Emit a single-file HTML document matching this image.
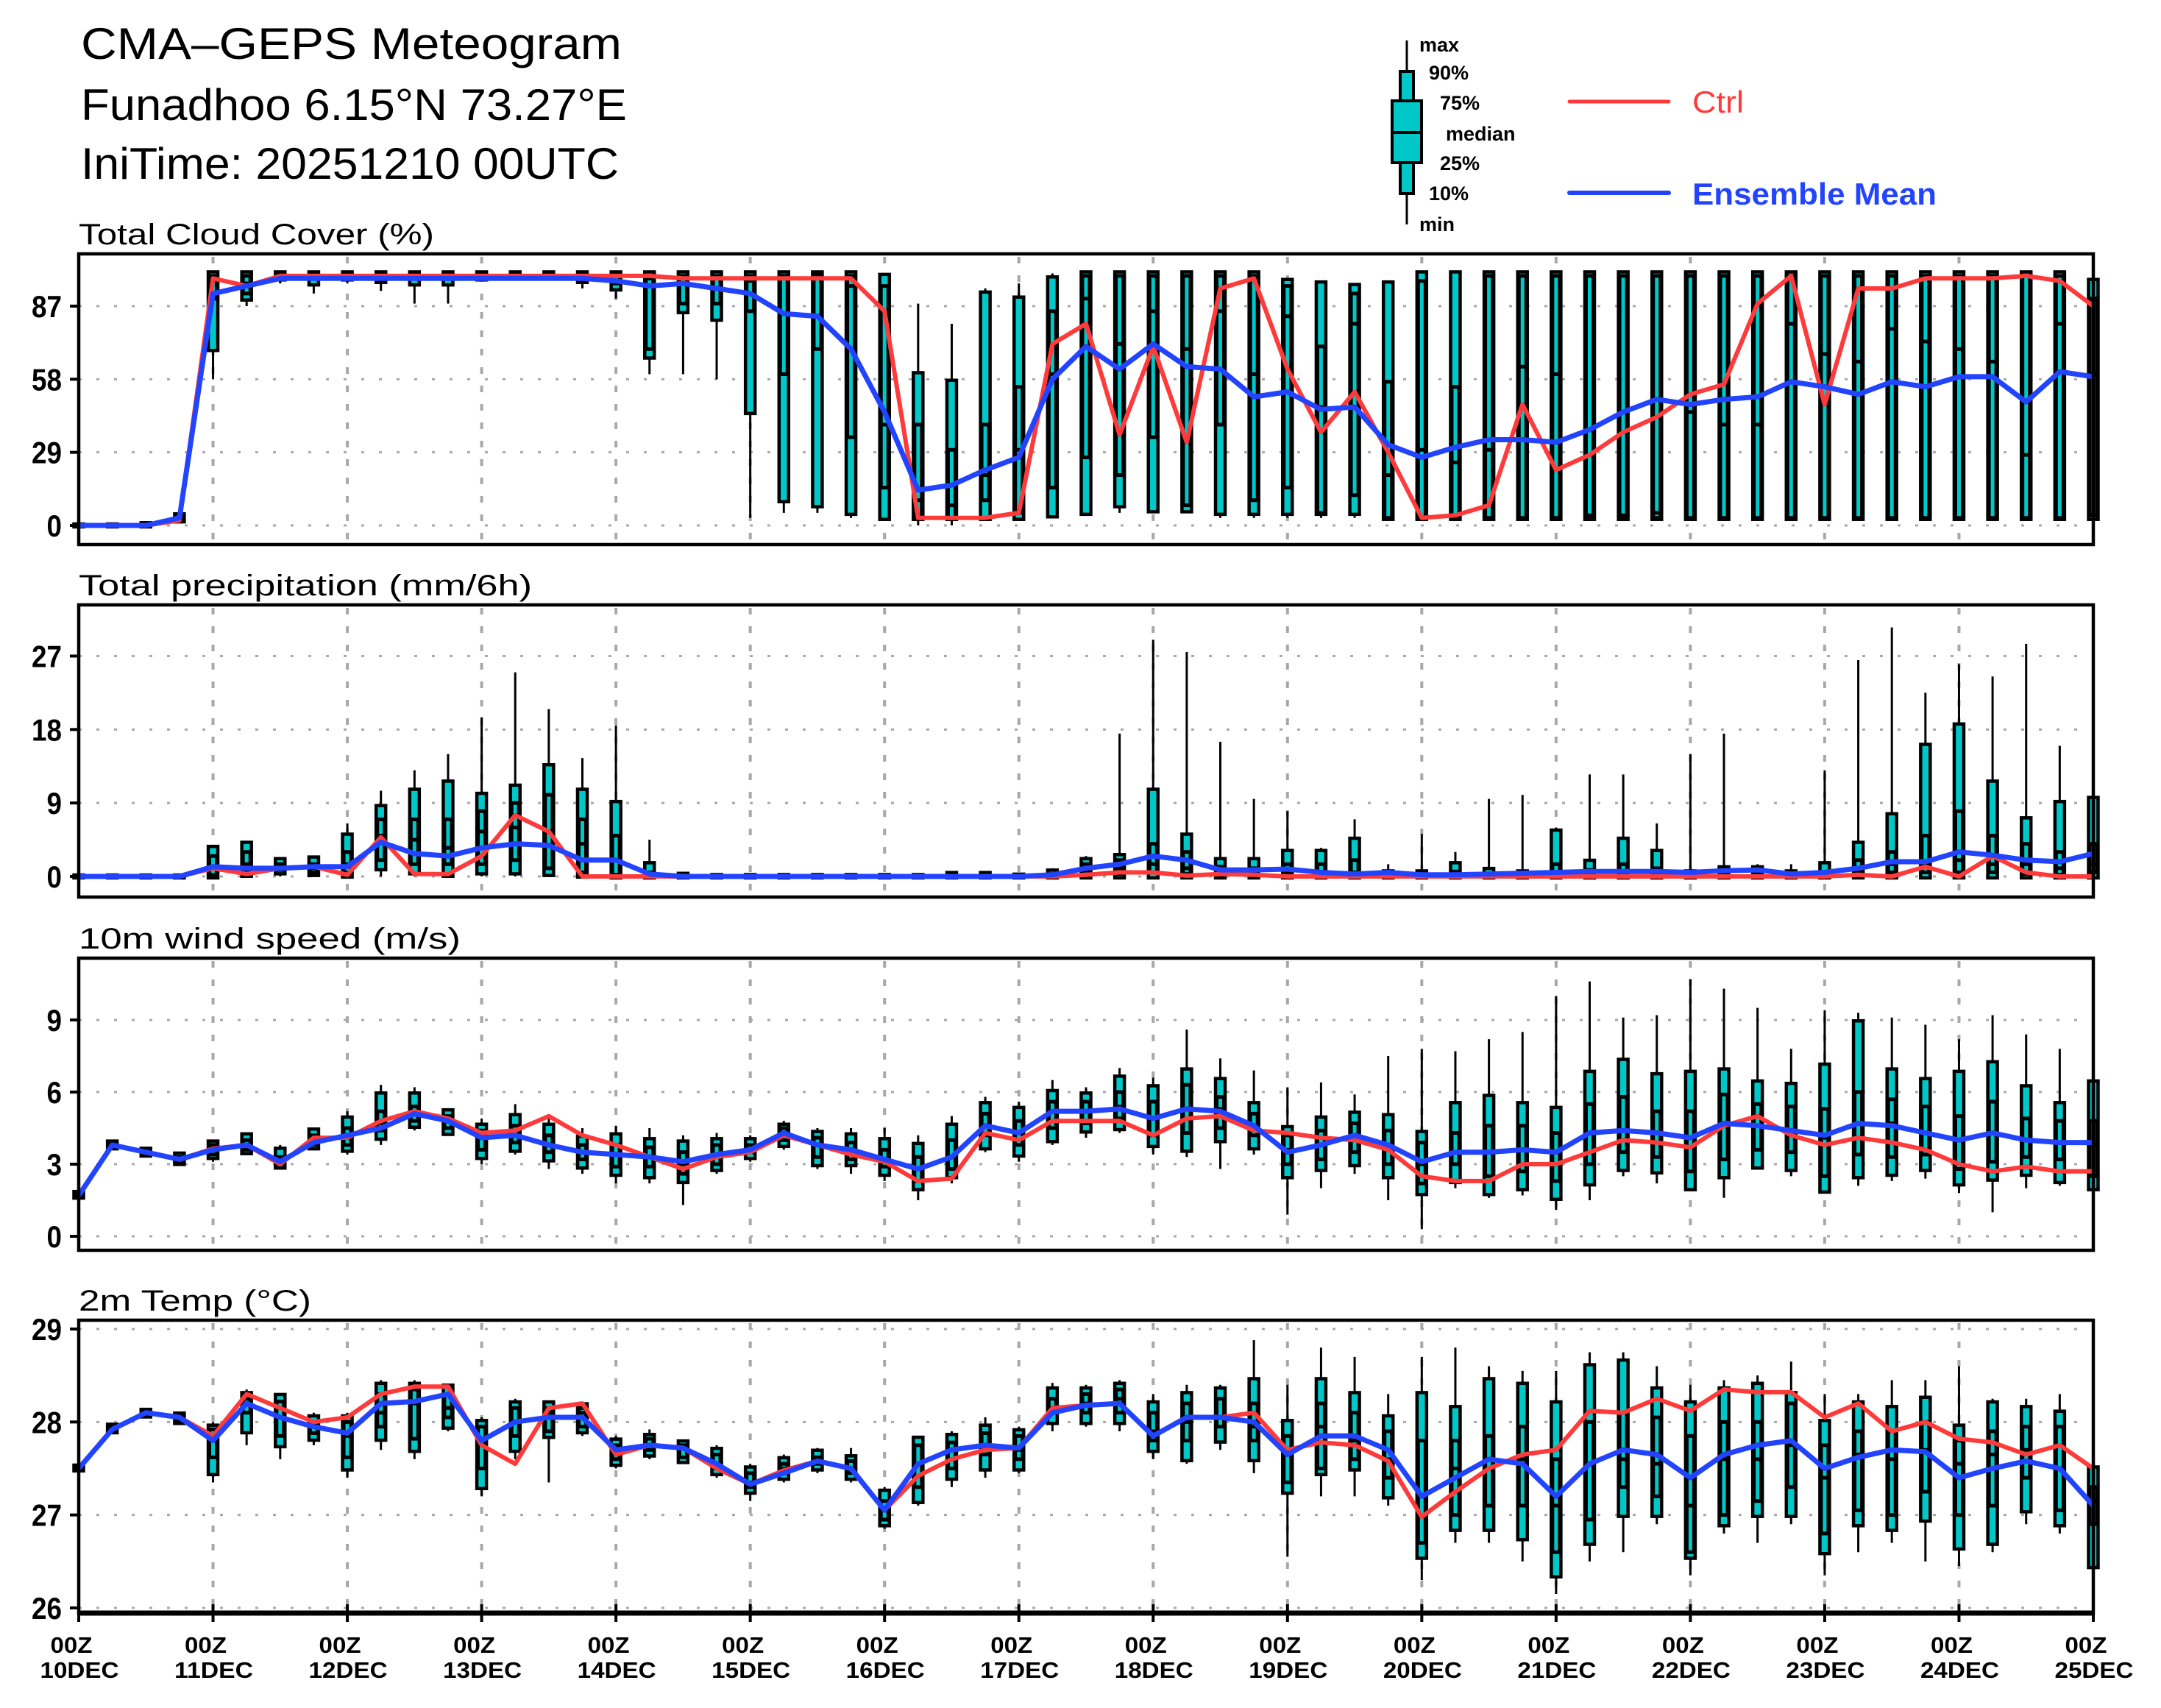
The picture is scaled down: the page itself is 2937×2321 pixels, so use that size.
<!DOCTYPE html>
<html><head><meta charset="utf-8"><style>
html,body{margin:0;padding:0;background:#fff;}
svg{display:block;}
text{font-family:"Liberation Sans",sans-serif;}
</style></head><body>
<svg id="chart" xmlns="http://www.w3.org/2000/svg" width="2937" height="2321" viewBox="0 0 2937 2321">
<rect x="0" y="0" width="2937" height="2321" fill="#fff"/>
<text x="110" y="80" font-size="60" textLength="735" lengthAdjust="spacingAndGlyphs">CMA–GEPS Meteogram</text>
<text x="110" y="163" font-size="60" textLength="742" lengthAdjust="spacingAndGlyphs">Funadhoo 6.15°N 73.27°E</text>
<text x="110" y="243" font-size="60" textLength="731" lengthAdjust="spacingAndGlyphs">IniTime: 20251210 00UTC</text>
<g id="legend"></g>
<g id="plots"></g>
</svg>
<script>
// ---- shared time axis ----
const steps = Array.from({length:61},(_,i)=>i); // 6-hourly steps
const dayLabels = ["10DEC","11DEC","12DEC","13DEC","14DEC","15DEC","16DEC","17DEC","18DEC","19DEC","20DEC","21DEC","22DEC","23DEC","24DEC","25DEC"];

// ---- Panel 1: Total cloud cover ----
const cloudTicks = [0,29,58,87];
const cloudCtrl = [0,0,0,2,98,95,99,99,99,99,99,99,99,99,99,99,99,99,98,98,98,98,98,98,85,3,3,3,5,72,80,36,71,33,94,98,62,37,53,29,3,4,8,48,22,28,37,43,52,56,88,99,48,94,94,98,98,98,99,97,87];
const cloudMean = [0,0,0,3,92,95,98,98,98,98,98,98,98,98,98,98,97,95,96,94,92,84,83,70,45,14,16,22,27,58,71,62,72,63,62,51,53,46,47,32,27,31,34,34,33,38,45,50,48,50,51,57,55,52,57,55,59,59,49,61,59];
const cloudBox = [
[0,0,0,0,0,0,0],[0,0,0,0,0,0,0],[0,0,0,0,0,0.5,1],[1,2,2,3,3,4,4],
[58,70,90,97,99,100,100],[87,90,92,96,99,100,100],[96,98,99,99,100,100,100],[92,96,98,99,100,100,100],
[96,98,99,99,100,100,100],[93,97,98,99,100,100,100],[88,96,98,99,100,100,100],[88,96,98,99,100,100,100],
[97,98,99,99,100,100,100],[98,99,99,99,100,100,100],[98,99,99,99,100,100,100],[94,97,98,99,100,100,100],
[90,94,96,99,100,100,100],[60,67,70,98,99,100,100],[60,85,88,98,99,100,100],[58,82,88,98,99,100,100],
[3,45,85,97,99,100,100],[5,10,60,98,99,100,100],[5,8,70,99,100,100,100],[3,5,35,95,99,100,100],
[3,3,15,40,95,99,100],[0,3,3,10,40,60,88],[0,3,3,8,30,57,80],[3,3,10,20,40,92,94],
[3,3,5,30,55,90,96],[3,4,15,60,85,98,100],[5,5,27,90,99,100,100],[5,8,20,72,99,100,100],
[5,6,35,85,99,100,100],[5,6,8,70,99,100,100],[3,5,40,85,99,100,100],[3,5,10,60,99,100,100],
[3,5,15,83,95,97,97],[3,5,5,47,71,96,96],[3,5,12,80,92,95,95],[3,3,3,20,57,96,96],
[3,3,3,30,97,100,100],[3,3,3,25,55,100,100],[3,3,3,30,99,100,100],[3,3,3,63,99,100,100],
[3,3,3,60,99,100,100],[3,3,3,4,99,100,100],[3,3,3,4,99,100,100],[3,3,3,5,99,100,100],
[3,3,3,45,99,100,100],[3,3,3,40,99,100,100],[3,3,3,40,99,100,100],[3,3,3,80,99,100,100],
[3,3,3,68,99,100,100],[3,3,3,65,99,100,100],[3,3,3,78,99,100,100],[3,3,3,73,99,100,100],
[3,3,3,70,99,100,100],[3,3,3,65,99,100,100],[3,3,3,28,99,100,100],[3,3,3,80,99,100,100],
[3,3,4,60,90,97,97]];

// ---- Panel 2: Total precipitation ----
const precTicks = [0,9,18,27];
const precCtrl = [0,0,0,0,1,0.3,1,1.2,0.2,4.8,0.3,0.3,2.5,7.5,5.5,0,0,0,0,0,0,0,0,0,0,0,0,0,0,0,0.2,0.5,0.5,0.1,0.3,0.2,0,0,0,0,0,0,0,0,0,0,0,0,0,0,0,0,0,0.2,0,1.2,0,2.5,0.5,0,0];
const precMean = [0,0,0,0,1.2,1,1,1.2,1.2,4.2,2.8,2.5,3.5,4,3.8,2,2,0.3,0,0,0,0,0,0,0,0,0,0,0,0.2,1,1.5,2.5,2,0.8,0.8,0.9,0.5,0.3,0.5,0.2,0.2,0.3,0.4,0.5,0.6,0.6,0.6,0.5,0.7,0.8,0.3,0.5,1,1.8,1.8,3,2.6,2,1.8,2.8];
const precBox = [
[0,0,0,0,0,0,0],[0,0,0,0,0,0,0],[0,0,0,0,0,0,0],[0,0,0,0,0,0,0],
[0,0,0.2,1,2.5,3.5,3.5],[0,0.2,0.5,1.5,3,4,4],[0,0.5,0.8,1.2,1.5,2,2],[0,0.3,0.5,1,1.5,2.2,2.5],
[0,0.1,0.5,1.5,3,5,6.5],[0,1,2,5,7,8.5,10.5],[0,0.5,1.5,4.5,7,10.5,13],[0,0.2,1.5,3.5,7,11.5,15],
[0,0.5,1.5,5.5,8,10,19.5],[0,0.5,2,6,9,11,25],[0,0.3,1,5.5,10,13.5,20.5],[0,0.1,0.5,4,7,10.5,14.5],
[0,0,0.2,2,5,9,18.5],[0,0,0,0.2,0.5,1.5,4.5],[0,0,0,0,0.1,0.2,0.5],[0,0,0,0,0,0.05,0.1],
[0,0,0,0,0,0.05,0.1],[0,0,0,0,0,0.05,0.1],[0,0,0,0,0,0.05,0.1],[0,0,0,0,0,0.05,0.1],
[0,0,0,0,0,0.05,0.1],[0,0,0,0,0,0.05,0.1],[0,0,0,0,0.1,0.3,0.5],[0,0,0,0,0.1,0.3,0.5],
[0,0,0,0,0,0.1,0.2],[0,0,0,0.1,0.3,0.6,1],[0,0,0.2,0.7,1.5,2,2.5],[0,0,0.3,1,2,2.5,17.5],
[0,0,0.5,1.5,4,10.5,29],[0,0,0.3,1,3,5,27.5],[0,0,0.2,0.5,1.2,2,16.5],[0,0,0,0.3,1,2,9.5],
[0,0,0.2,0.5,1.5,3,8],[0,0,0,0.3,1.5,3,3.5],[0,0,0.2,0.5,2,4.5,7],[0,0,0,0,0.2,0.5,1.5],
[0,0,0,0,0.1,0.5,5.2],[0,0,0,0.2,0.6,1.5,3],[0,0,0,0,0.3,0.8,9.5],[0,0,0,0.1,0.3,0.5,10],
[0,0,0.1,0.5,1.5,5.5,6],[0,0,0,0.3,0.8,1.8,12.5],[0,0,0.2,0.6,1.5,4.5,12.5],[0,0,0,0.3,1,3,6.5],
[0,0,0,0,0.2,0.5,15],[0,0,0,0.1,0.4,1,17.5],[0,0,0,0.1,0.5,1,1.5],[0,0,0,0,0.2,0.5,1.5],
[0,0,0,0.2,0.5,1.5,13],[0,0,0.2,0.5,2,4,26.5],[0,0,0.5,1.5,3,7.5,30.5],[0,0,0.5,1.5,5,16,22.5],
[0,0,0.5,2,8,18.5,26],[0,0,0.5,1.5,5,11.5,24.5],[0,0,0.3,1.5,4,7,28.5],[0,0,0.2,1,3,9,16],
[0,0,0.5,1.5,4,9.5,9.5]];

// ---- Panel 3: 10m wind speed ----
const windTicks = [0,3,6,9];
const windCtrl = [1.7,3.8,3.5,3.2,3.65,3.8,3.0,4.1,4.1,4.8,5.2,4.9,4.3,4.4,5.0,4.2,3.8,3.3,2.8,3.3,3.5,4.2,3.8,3.4,3.1,2.3,2.4,4.3,4.0,4.8,4.8,4.8,4.2,4.9,5.0,4.4,4.3,4.1,4.0,3.6,2.5,2.3,2.3,3.0,3.0,3.5,4.0,3.9,3.7,4.6,5.0,4.2,3.8,4.1,3.9,3.6,3.0,2.7,2.9,2.7,2.7];
const windMean = [1.7,3.8,3.5,3.2,3.6,3.8,3.1,3.9,4.2,4.5,5.1,4.8,4.1,4.2,3.8,3.5,3.4,3.3,3.1,3.4,3.6,4.3,3.8,3.6,3.2,2.8,3.3,4.6,4.3,5.2,5.2,5.3,4.9,5.3,5.2,4.6,3.5,3.8,4.2,3.8,3.1,3.5,3.5,3.6,3.5,4.3,4.4,4.3,4.1,4.7,4.6,4.4,4.2,4.7,4.6,4.3,4.0,4.3,4.0,3.9,3.9];
const windBox = [
[1.6,1.65,1.7,1.7,1.75,1.8,1.85],[3.6,3.7,3.75,3.8,3.85,3.9,4.0],[3.3,3.4,3.45,3.5,3.55,3.6,3.7],[3.0,3.05,3.1,3.2,3.3,3.4,3.5],
[3.1,3.3,3.4,3.6,3.8,3.9,4.0],[3.4,3.5,3.6,3.8,4.0,4.2,4.3],[2.8,2.9,3.0,3.1,3.3,3.6,3.8],[3.6,3.7,3.8,4.0,4.2,4.4,4.5],
[3.4,3.6,3.8,4.1,4.5,4.9,5.2],[3.8,4.1,4.4,4.7,5.2,5.9,6.3],[4.4,4.6,4.8,5.1,5.4,5.9,6.2],[4.2,4.3,4.5,4.8,5.0,5.2,5.3],
[3.0,3.3,3.6,4.1,4.4,4.6,4.9],[3.4,3.6,3.9,4.2,4.6,5.0,5.5],[2.8,3.2,3.5,3.8,4.2,4.6,5.0],[2.6,2.9,3.2,3.5,3.8,4.1,4.5],
[2.2,2.6,2.9,3.4,3.8,4.2,4.6],[2.2,2.5,2.9,3.3,3.7,4.0,4.5],[1.3,2.3,2.6,3.0,3.5,3.9,4.2],[2.6,2.8,3.0,3.4,3.8,4.0,4.3],
[3.1,3.3,3.5,3.6,3.8,4.0,4.2],[3.6,3.8,4.0,4.3,4.5,4.6,4.8],[2.8,3.0,3.3,3.8,4.1,4.3,4.5],[2.6,3.0,3.2,3.5,3.9,4.2,4.5],
[2.3,2.6,2.9,3.2,3.6,4.0,4.5],[1.5,2.0,2.3,2.8,3.3,3.8,4.2],[2.2,2.5,2.8,3.3,4.0,4.6,5.0],[3.5,3.7,4.2,4.6,5.1,5.5,5.8],
[3.1,3.4,3.8,4.3,4.8,5.3,5.6],[3.8,4.0,4.5,5.2,5.6,6.0,6.5],[4.1,4.4,4.7,5.2,5.6,5.9,6.2],[4.3,4.5,4.9,5.4,6.0,6.6,7.0],
[3.4,3.8,4.2,4.9,5.6,6.2,6.6],[3.3,3.6,4.3,5.3,6.3,6.9,8.6],[2.8,4.0,4.5,5.3,5.8,6.5,7.4],[3.4,3.7,4.2,4.6,5.1,5.5,6.9],
[0.9,2.5,3.0,3.6,4.2,4.5,6.2],[2.0,2.8,3.2,3.8,4.4,4.9,6.4],[2.6,3.0,3.5,4.2,4.7,5.1,5.9],[1.5,2.5,3.0,3.7,4.4,5.0,7.5],
[0.3,1.8,2.2,3.0,3.9,4.3,7.8],[2.0,2.3,3.0,3.5,4.3,5.5,7.7],[1.6,1.8,2.5,3.5,4.6,5.8,8.2],[1.7,2.0,2.7,3.6,4.6,5.5,8.5],
[1.1,1.6,2.3,3.5,4.3,5.3,10.0],[1.5,2.2,3.0,4.3,5.5,6.8,10.6],[2.5,2.8,3.5,4.4,5.8,7.3,9.1],[2.2,2.7,3.3,4.3,5.2,6.7,9.2],
[1.9,2.0,2.7,4.1,5.2,6.8,10.7],[1.6,2.5,3.2,4.7,5.9,6.9,10.3],[2.8,2.9,3.6,4.6,5.5,6.4,9.5],[2.5,2.8,3.5,4.4,5.4,6.3,7.8],
[1.8,1.9,2.5,4.1,5.3,7.1,9.4],[2.1,2.5,3.4,4.7,6.0,8.9,9.3],[2.3,2.6,3.3,4.7,5.7,6.9,9.1],[2.4,2.8,3.4,4.3,5.4,6.5,8.8],
[1.8,2.2,2.8,4.0,5.0,6.8,8.2],[1.0,2.4,3.1,4.3,5.6,7.2,9.2],[2.0,2.6,3.3,4.0,4.9,6.2,8.4],[2.1,2.3,3.2,3.9,4.8,5.5,7.8],
[1.8,2.0,2.5,3.8,4.8,6.4,6.4]];

// ---- Panel 4: 2m temperature ----
const tempTicks = [26,27,28,29];
const tempCtrl = [27.5,27.92,28.1,28.05,27.85,28.3,28.15,28.0,28.05,28.3,28.38,28.38,27.75,27.55,28.15,28.2,27.65,27.75,27.72,27.5,27.33,27.48,27.58,27.5,27.05,27.42,27.6,27.7,27.72,28.15,28.18,28.2,27.85,28.05,28.05,28.1,27.7,27.78,27.75,27.58,26.98,27.25,27.5,27.65,27.7,28.12,28.1,28.25,28.12,28.35,28.32,28.32,28.05,28.2,27.9,28.0,27.82,27.78,27.65,27.75,27.5];
const tempMean = [27.5,27.92,28.1,28.05,27.8,28.2,28.05,27.95,27.88,28.2,28.22,28.3,27.8,28.0,28.05,28.05,27.7,27.75,27.72,27.55,27.33,27.45,27.58,27.5,27.05,27.55,27.7,27.75,27.72,28.1,28.18,28.2,27.85,28.05,28.05,28.0,27.65,27.85,27.85,27.7,27.2,27.4,27.6,27.55,27.2,27.55,27.7,27.65,27.4,27.65,27.75,27.8,27.5,27.62,27.7,27.68,27.4,27.5,27.58,27.5,27.1];
const tempBox = [
[27.48,27.49,27.5,27.5,27.51,27.52,27.53],[27.88,27.9,27.92,27.93,27.95,27.96,27.98],[28.05,28.07,28.09,28.1,28.11,28.12,28.14],[27.98,28.0,28.02,28.05,28.07,28.08,28.1],
[27.35,27.45,27.62,27.85,27.92,27.95,28.0],[27.75,27.9,28.1,28.25,28.28,28.3,28.35],[27.6,27.75,27.85,28.05,28.22,28.28,28.3],[27.75,27.82,27.88,27.98,28.0,28.05,28.1],
[27.4,27.5,27.62,27.85,28.0,28.05,28.1],[27.7,27.82,27.95,28.1,28.3,28.4,28.45],[27.6,27.7,27.82,28.2,28.35,28.4,28.45],[27.9,27.95,28.05,28.15,28.3,28.38,28.4],
[27.2,27.3,27.5,27.8,27.95,28.0,28.05],[27.6,27.7,27.85,28.0,28.15,28.2,28.25],[27.35,27.85,27.9,28.1,28.15,28.2,28.2],[27.85,27.9,27.95,28.1,28.15,28.18,28.2],
[27.5,27.55,27.6,27.7,27.75,27.8,27.85],[27.6,27.65,27.7,27.75,27.82,27.85,27.92],[27.55,27.58,27.62,27.72,27.75,27.78,27.8],[27.4,27.45,27.5,27.55,27.65,27.7,27.75],
[27.15,27.25,27.3,27.35,27.45,27.5,27.55],[27.35,27.4,27.45,27.5,27.55,27.6,27.65],[27.45,27.5,27.55,27.6,27.62,27.68,27.72],[27.35,27.4,27.45,27.5,27.58,27.62,27.72],
[26.85,26.9,26.95,27.05,27.15,27.25,27.3],[27.1,27.15,27.3,27.55,27.75,27.82,27.85],[27.3,27.4,27.5,27.7,27.78,27.85,27.9],[27.4,27.5,27.65,27.75,27.88,27.95,28.05],
[27.45,27.5,27.6,27.7,27.85,27.9,27.95],[27.9,28.0,28.1,28.15,28.25,28.35,28.42],[27.95,28.0,28.1,28.2,28.3,28.35,28.4],[27.9,28.0,28.1,28.25,28.35,28.4,28.45],
[27.6,27.7,27.8,27.9,28.1,28.2,28.3],[27.55,27.6,27.8,28.0,28.2,28.3,28.4],[27.7,27.8,27.95,28.05,28.25,28.35,28.4],[27.45,27.6,27.8,27.95,28.2,28.45,28.88],
[26.55,27.25,27.35,27.7,27.85,28.0,28.4],[27.2,27.45,27.5,27.95,28.2,28.45,28.8],[27.2,27.5,27.6,27.8,28.1,28.3,28.7],[27.1,27.2,27.4,27.6,27.9,28.05,28.3],
[26.3,26.55,26.7,27.2,27.8,28.3,28.7],[26.7,26.85,27.0,27.5,27.8,28.15,28.8],[26.7,26.85,27.1,27.6,27.85,28.45,28.6],[26.5,26.75,27.1,27.6,27.95,28.4,28.55],
[26.15,26.35,26.6,27.1,27.6,28.2,28.55],[26.5,26.7,26.95,27.55,28.0,28.6,28.75],[26.6,27.0,27.3,27.6,28.1,28.65,28.75],[26.9,27.0,27.2,27.55,28.05,28.35,28.6],
[26.35,26.55,26.6,27.1,27.85,28.2,28.4],[26.8,26.9,27.0,27.6,28.0,28.35,28.45],[26.7,27.0,27.15,27.6,28.0,28.4,28.5],[26.9,27.0,27.3,27.75,28.2,28.3,28.65],
[26.35,26.6,26.8,27.4,27.75,28.0,28.3],[26.6,26.9,27.05,27.65,27.9,28.2,28.3],[26.7,26.85,27.0,27.6,27.9,28.15,28.45],[26.5,26.95,27.25,27.7,28.0,28.25,28.45],
[26.45,26.65,27.0,27.55,27.8,27.95,28.6],[26.6,26.7,27.1,27.65,27.9,28.2,28.25],[26.9,27.05,27.4,27.7,27.95,28.15,28.25],[26.8,26.9,27.05,27.5,27.95,28.1,28.3],
[26.4,26.45,26.9,27.15,27.3,27.5,27.5]];

// ---- layout ----
const NS = "http://www.w3.org/2000/svg";
const X0 = 107, X1 = 2845, NSTEP = 60;
function xs(t){ return X0 + t*(X1-X0)/NSTEP; }
const TEAL = "#00c8c8", RED = "#ff3a3a", BLUE = "#2244ff", GRID = "#a8a8a8";

const panels = [
 {key:"cloud", title:"Total Cloud Cover (%)", tl:483, top:345, bot:740, vA:0, yA:714, vB:87, yB:416, ticks:cloudTicks, ctrl:cloudCtrl, mean:cloudMean, box:cloudBox},
 {key:"precip", title:"Total precipitation (mm/6h)", tl:616, top:822, bot:1219, vA:0, yA:1191, vB:27, yB:891.5, ticks:precTicks, ctrl:precCtrl, mean:precMean, box:precBox},
 {key:"wind", title:"10m wind speed (m/s)", tl:519, top:1302, bot:1699, vA:0, yA:1680, vB:9, yB:1386, ticks:windTicks, ctrl:windCtrl, mean:windMean, box:windBox},
 {key:"temp", title:"2m Temp (°C)", tl:316, top:1794, bot:2192, vA:26, yA:2185, vB:29, yB:1806, ticks:tempTicks, ctrl:tempCtrl, mean:tempMean, box:tempBox}
];

function mk(tag, attrs, parent){
  const e = document.createElementNS(NS, tag);
  for (const k in attrs) e.setAttribute(k, attrs[k]);
  parent.appendChild(e);
  return e;
}

const plots = document.getElementById("plots");
panels.forEach((p, pi) => {
  const ys = v => p.yA + (v - p.vA) * (p.yB - p.yA) / (p.vB - p.vA);
  const g = mk("g", {}, plots);
  
  

  const ttl = mk("text", {x:107, y:p.top-13, "font-size":40, textLength:p.tl, lengthAdjust:"spacingAndGlyphs"}, g);
  
  
  ttl.textContent = p.title;

  p.ticks.forEach(v => {
    const y = ys(v);
    const gl = mk("line", {x1:X0, x2:X1, y1:y, y2:y, stroke:GRID, "stroke-width":3, "stroke-dasharray":"4 20"}, g);
    
    
    const tk = mk("line", {x1:95, x2:X0, y1:y, y2:y, stroke:"#000", "stroke-width":4}, g);
    
    
    const lab = String(v);
    const tx = mk("text", {x:84, y:y+15, "font-size":42, "font-weight":"bold", "text-anchor":"end", textLength: lab.length*20.5, lengthAdjust:"spacingAndGlyphs"}, g);
    
    
    tx.textContent = lab;
  });
  for (let d = 1; d < 15; d++) {
    const x = xs(d*4);
    const vl = mk("line", {x1:x, x2:x, y1:p.top+4, y2:p.bot, stroke:GRID, "stroke-width":4, "stroke-dasharray":"9 16"}, g);
    
    
  }

  p.box.forEach((b, t) => {
    const x = xs(t);
    const bg = mk("g", {}, g);
    
    
    mk("line", {x1:x, x2:x, y1:ys(b[0]), y2:ys(b[6]), stroke:"#000", "stroke-width":3}, bg);
    const y90 = ys(b[5]), y10 = ys(b[1]);
    mk("rect", {x:x-6.5, y:y90-2, width:13, height:Math.max(4, y10-y90+4), fill:TEAL, stroke:"#000", "stroke-width":4.5}, bg);
    const y75 = ys(b[4]), y25 = ys(b[3]), y25b = ys(b[2]);
    mk("rect", {x:x-8.5, y:y75-2.5, width:17, height:Math.max(5, y25b-y75+5), fill:"#000"}, bg);
    mk("rect", {x:x-2.5, y:y75+2.5, width:5, height:Math.max(0, y25b-y75-5), fill:TEAL}, bg);
    mk("line", {x1:x-8.5, x2:x+8.5, y1:y25, y2:y25, stroke:"#000", "stroke-width":5}, bg);
  });

  const ptsC = p.ctrl.map((v,t)=> xs(t).toFixed(1)+","+ys(v).toFixed(1)).join(" ");
  const lc = mk("polyline", {points:ptsC, fill:"none", stroke:RED, "stroke-width":6, "stroke-linejoin":"round"}, g);
  
  
  const ptsM = p.mean.map((v,t)=> xs(t).toFixed(1)+","+ys(v).toFixed(1)).join(" ");
  const lm = mk("polyline", {points:ptsM, fill:"none", stroke:BLUE, "stroke-width":7, "stroke-linejoin":"round"}, g);
  
  

  const fr = mk("rect", {x:X0, y:p.top, width:X1-X0, height:p.bot-p.top, fill:"none", stroke:"#000", "stroke-width":4.5}, g);
  
  

  if (pi === 3) {
    const ax = mk("line", {x1:X0, x2:X1, y1:p.bot, y2:p.bot, stroke:"#000", "stroke-width":7}, g);
    
    
    dayLabels.forEach((lab, d) => {
      const x = xs(d*4);
      const tk = mk("line", {x1:x, x2:x, y1:p.bot-12, y2:p.bot+12, stroke:"#000", "stroke-width":4}, g);
      
      
      const t1 = mk("text", {x:x-10, y:2246, "font-size":31, "font-weight":"bold", "text-anchor":"middle", textLength:57, lengthAdjust:"spacingAndGlyphs"}, g);
      
      
      t1.textContent = "00Z";
      const t2 = mk("text", {x:x+1, y:2280, "font-size":31, "font-weight":"bold", "text-anchor":"middle", textLength:107, lengthAdjust:"spacingAndGlyphs"}, g);
      
      
      t2.textContent = lab;
    });
  }
});

// ---- legend ----
const lg = document.getElementById("legend");
const lx = 1912;
mk("line", {x1:lx, x2:lx, y1:55, y2:305, stroke:"#000", "stroke-width":3}, lg);
mk("rect", {x:lx-9, y:97, width:18, height:166, fill:TEAL, stroke:"#000", "stroke-width":4}, lg);
mk("rect", {x:lx-20, y:137, width:40, height:84, fill:TEAL, stroke:"#000", "stroke-width":4}, lg);
mk("line", {x1:lx-20, x2:lx+20, y1:180, y2:180, stroke:"#000", "stroke-width":4}, lg);
const legLabels = [["max",1929,70],["90%",1942,108],["75%",1957,149],["median",1965,191],["25%",1957,231],["10%",1942,272],["min",1929,314]];
legLabels.forEach(l => {
  const t = mk("text", {x:l[1], y:l[2], "font-size":27, "font-weight":"bold"}, lg);
  
  
  t.textContent = l[0];
});
const lr = mk("line", {x1:2133, x2:2268, y1:138, y2:138, stroke:RED, "stroke-width":5, "stroke-linecap":"round"}, lg);


const tr = mk("text", {x:2300, y:153, "font-size":42, fill:RED, textLength:70, lengthAdjust:"spacingAndGlyphs"}, lg);


tr.textContent = "Ctrl";
const lb = mk("line", {x1:2133, x2:2268, y1:262, y2:262, stroke:BLUE, "stroke-width":6, "stroke-linecap":"round"}, lg);


const tb = mk("text", {x:2300, y:278, "font-size":42, fill:BLUE, "font-weight":"bold", textLength:332, lengthAdjust:"spacingAndGlyphs"}, lg);


tb.textContent = "Ensemble Mean";
</script>
</body></html>
